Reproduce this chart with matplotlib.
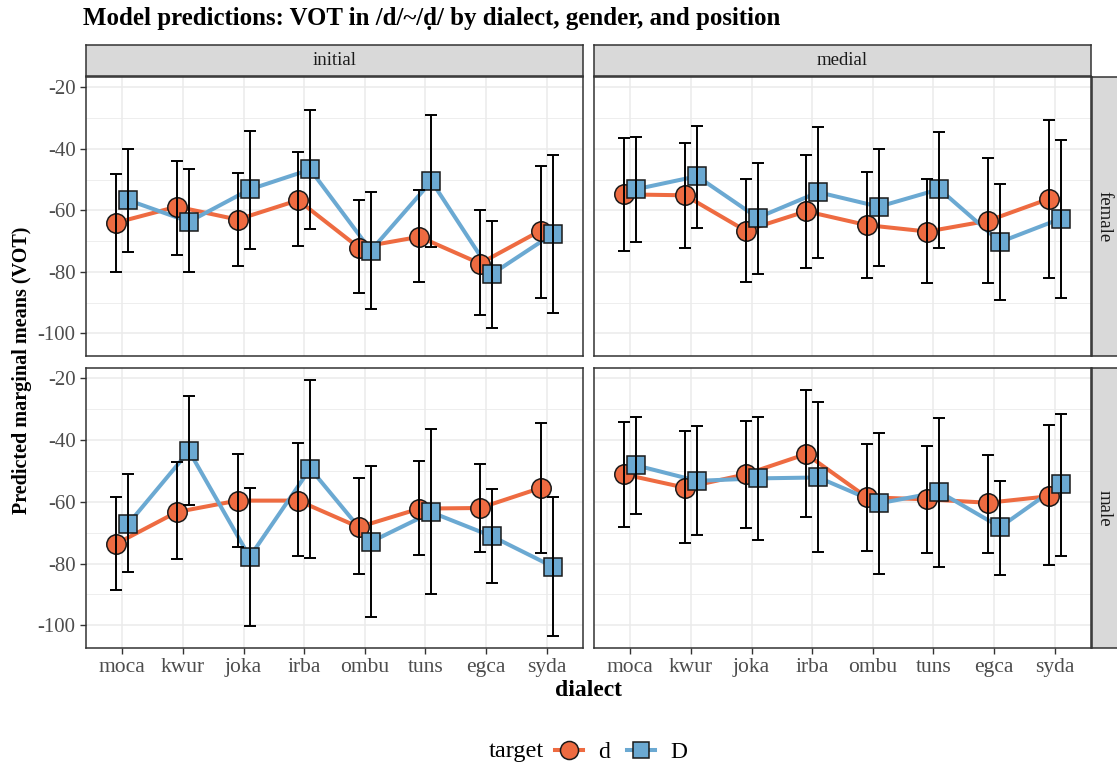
import numpy as np
import matplotlib
matplotlib.use('Agg')
import matplotlib.pyplot as plt
from matplotlib.lines import Line2D

dialects = ['moca', 'kwur', 'joka', 'irba', 'ombu', 'tuns', 'egca', 'syda']
positions = ['initial', 'medial']
genders = ['female', 'male']
targets = ['d', 'D']

# initial / female
ini_fem_d = [-64.0, -58.8, -63.0, -56.7, -72.1, -68.6, -77.3, -66.6]
ini_fem_d_lo = [-79.9, -74.6, -78.1, -71.6, -86.8, -83.4, -94.2, -88.5]
ini_fem_d_hi = [-48.3, -43.9, -48.0, -41.1, -56.7, -53.4, -60.0, -45.5]
ini_fem_D = [-56.7, -63.7, -53.2, -46.7, -73.1, -50.5, -80.7, -67.7]
ini_fem_D_lo = [-73.6, -79.9, -72.7, -66.1, -92.0, -71.8, -98.3, -93.5]
ini_fem_D_hi = [-40.0, -46.7, -34.2, -27.3, -53.9, -29.1, -63.4, -41.9]

# medial / female
med_fem_d = [-54.8, -55.1, -66.6, -60.3, -64.8, -66.9, -63.4, -56.3]
med_fem_d_lo = [-73.1, -72.1, -83.3, -78.6, -82.0, -83.7, -83.8, -82.0]
med_fem_d_hi = [-36.5, -38.1, -49.7, -41.9, -47.4, -49.8, -43.0, -30.6]
med_fem_D = [-53.1, -48.9, -62.4, -54.1, -58.8, -53.1, -70.3, -62.7]
med_fem_D_lo = [-70.4, -65.8, -80.7, -75.6, -78.0, -72.4, -89.2, -88.5]
med_fem_D_hi = [-36.1, -32.4, -44.7, -33.0, -40.0, -34.4, -51.3, -37.0]

# initial / male
ini_mal_d = [-73.6, -63.3, -59.6, -59.6, -68.2, -62.2, -62.0, -55.5]
ini_mal_d_lo = [-88.6, -78.7, -74.5, -77.5, -83.4, -77.3, -76.3, -76.5]
ini_mal_d_hi = [-58.3, -47.2, -44.5, -40.9, -52.3, -46.8, -47.7, -34.5]
ini_mal_D = [-67.1, -43.5, -77.9, -49.2, -73.0, -63.4, -71.2, -81.0]
ini_mal_D_lo = [-82.9, -61.0, -100.4, -78.3, -97.3, -89.8, -86.4, -103.5]
ini_mal_D_hi = [-51.1, -25.7, -55.4, -20.5, -48.5, -36.4, -56.0, -58.4]

# medial / male
med_mal_d = [-51.1, -55.4, -51.1, -44.5, -58.5, -59.2, -60.3, -58.2]
med_mal_d_lo = [-68.2, -73.4, -68.4, -65.0, -75.8, -76.6, -76.5, -80.5]
med_mal_d_hi = [-34.1, -37.1, -33.7, -23.8, -41.2, -41.8, -44.7, -35.2]
med_mal_D = [-48.2, -53.2, -52.4, -52.1, -60.5, -56.8, -68.2, -54.3]
med_mal_D_lo = [-64.0, -70.7, -72.5, -76.4, -83.5, -81.0, -83.6, -77.5]
med_mal_D_hi = [-32.4, -35.5, -32.4, -27.7, -37.6, -32.8, -53.2, -31.4]

yticks = [-100, -80, -60, -40, -20]
yminor = [-90, -70, -50, -30]

panels = {
    ('initial', 'female'): [(ini_fem_d, ini_fem_d_lo, ini_fem_d_hi), (ini_fem_D, ini_fem_D_lo, ini_fem_D_hi)],
    ('medial', 'female'): [(med_fem_d, med_fem_d_lo, med_fem_d_hi), (med_fem_D, med_fem_D_lo, med_fem_D_hi)],
    ('initial', 'male'): [(ini_mal_d, ini_mal_d_lo, ini_mal_d_hi), (ini_mal_D, ini_mal_D_lo, ini_mal_D_hi)],
    ('medial', 'male'): [(med_mal_d, med_mal_d_lo, med_mal_d_hi), (med_mal_D, med_mal_D_lo, med_mal_D_hi)],
}

colors = ['#EE6B41', '#6BA9D2']
markers = ['o', 's']
msizes = [14, 12.5]
dodge = [-0.1, 0.1]

plt.rcParams['font.family'] = 'Liberation Serif'
plt.rcParams['axes.unicode_minus'] = False

W, H = 1117.0, 767.0
fig = plt.figure(figsize=(W / 100, H / 100), dpi=100)


def rect(x0, y0, x1, y1):
    return [x0 / W, 1 - y1 / H, (x1 - x0) / W, (y1 - y0) / H]


col_x = [(86, 583), (594, 1091)]
row_y = [(77, 356), (368, 648)]
x = np.arange(1, len(dialects) + 1)

for r, g in enumerate(genders):
    for c, p in enumerate(positions):
        x0, x1 = col_x[c]
        y0, y1 = row_y[r]
        ax = fig.add_axes(rect(x0, y0, x1, y1))
        ax.set_yticks(yticks)
        ax.set_yticks(yminor, minor=True)
        ax.set_xticks(x)
        ax.grid(True, which='major', color='#EBEBEB', lw=1.1)
        ax.grid(True, which='minor', axis='y', color='#EBEBEB', lw=0.6)
        ax.set_axisbelow(True)
        for s in ax.spines.values():
            s.set_color('#333333')
            s.set_linewidth(1.1)
        ax.tick_params(which='minor', length=0)
        ax.tick_params(which='major', length=4, width=1.0, color='#333333',
                       labelcolor='#4D4D4D', labelsize=15)
        ax.tick_params(axis='x', labelsize=15.5)
        if r == 1:
            ax.set_xticklabels(dialects)
        else:
            ax.set_xticklabels([])
            ax.tick_params(axis='x', length=0)
        if c == 1:
            ax.set_yticklabels([])
            ax.tick_params(axis='y', length=0)

        for k in range(2):
            mean, lo, hi = panels[(p, g)][k]
            mean = np.array(mean)
            xs = x + dodge[k]
            ax.plot(xs, mean, color=colors[k], lw=2.9, zorder=2)
            ax.plot(xs, mean, ls='none', marker=markers[k], ms=msizes[k],
                    mfc=colors[k], mec='#1A1A1A', mew=1.1, zorder=3)
        for k in range(2):
            mean, lo, hi = panels[(p, g)][k]
            mean = np.array(mean)
            err = [mean - np.array(lo), np.array(hi) - mean]
            ax.errorbar(x + dodge[k], mean, yerr=err, fmt='none', ecolor='black',
                        elinewidth=1.4, capsize=4.3, capthick=1.4, zorder=4)
        ax.set_xlim(0.4, 8.6)
        ax.set_ylim(-107.4, -16.6)

        # strips
        if r == 0:
            sax = fig.add_axes(rect(x0, 45, x1, 76))
            sax.set_facecolor('#D9D9D9')
            sax.set_xticks([])
            sax.set_yticks([])
            for s in sax.spines.values():
                s.set_color('#333333')
                s.set_linewidth(1.1)
            sax.text(0.5, 0.5, p, ha='center', va='center', fontsize=13.5,
                     color='#1A1A1A', transform=sax.transAxes)
        if c == 1:
            sax = fig.add_axes(rect(1092, y0, 1126, y1))
            sax.set_facecolor('#D9D9D9')
            sax.set_xticks([])
            sax.set_yticks([])
            for s in sax.spines.values():
                s.set_color('#333333')
                s.set_linewidth(1.1)
            sax.text(0.36, 0.5, g, ha='center', va='center', fontsize=13.5,
                     color='#1A1A1A', rotation=-90, transform=sax.transAxes)

fig.text(83 / W, 1 - 19 / H, 'Model predictions: VOT in /d/~/\u1e0d/ by dialect, gender, and position',
         ha='left', va='center', fontsize=17.9, fontweight='bold')
fig.text(22 / W, 1 - 370 / H, 'Predicted marginal means (VOT)', rotation=90,
         ha='center', va='center', fontsize=14.5, fontweight='bold')
fig.text(588 / W, 1 - 691 / H, 'dialect', ha='center', va='center',
         fontsize=17, fontweight='bold')

# legend
fig.text(516 / W, 1 - 751 / H, 'target', ha='center', va='center', fontsize=17.5)
handles = []
for k in range(2):
    handles.append(Line2D([0], [0], color=colors[k], lw=2.9, marker=markers[k],
                          ms=msizes[k] - 1, mfc=colors[k], mec='#1A1A1A', mew=1.1))
fig.legend(handles, targets, ncol=2, loc='center', bbox_to_anchor=(621 / W, 1 - 752 / H),
           frameon=False, fontsize=17, handlelength=1.2, handletextpad=0.65,
           columnspacing=0.7, borderpad=0, borderaxespad=0)

plt.savefig('out.png', dpi=100)
